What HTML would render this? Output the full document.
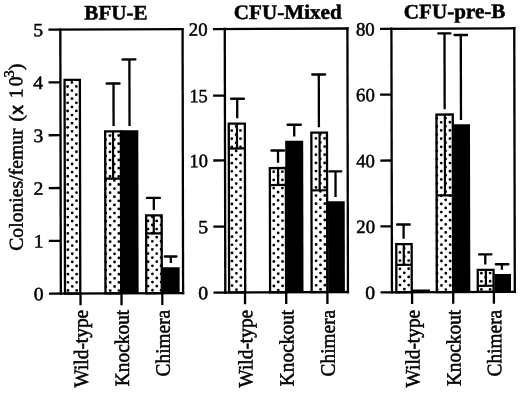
<!DOCTYPE html>
<html lang="en">
<head>
<meta charset="utf-8">
<title>Colonies per femur</title>
<style>
html,body{margin:0;padding:0;background:#fff;}
body{width:520px;height:393px;overflow:hidden;font-family:"Liberation Serif","Times New Roman",serif;}
svg{display:block;}
</style>
</head>
<body>
<svg width="520" height="393" viewBox="0 0 520 393" font-family="'Liberation Serif', 'Times New Roman', serif" fill="#000">
<rect x="0" y="0" width="520" height="393" fill="#fff"/>
<g transform="matrix(0.999993 -0.003840 0.002007 1.000000 -0.3915 0.9984)">
<g id="p1">
<rect x="64.79" y="79.20" width="15.30" height="213.60" fill="#fff"/>
<circle cx="67.81" cy="85.76" r="1.4"/>
<circle cx="67.81" cy="93.92" r="1.4"/>
<circle cx="67.81" cy="102.08" r="1.4"/>
<circle cx="67.81" cy="110.24" r="1.4"/>
<circle cx="67.81" cy="118.40" r="1.4"/>
<circle cx="67.81" cy="126.56" r="1.4"/>
<circle cx="67.81" cy="134.72" r="1.4"/>
<circle cx="67.81" cy="142.88" r="1.4"/>
<circle cx="67.81" cy="151.04" r="1.4"/>
<circle cx="67.81" cy="159.20" r="1.4"/>
<circle cx="67.81" cy="167.36" r="1.4"/>
<circle cx="67.81" cy="175.52" r="1.4"/>
<circle cx="67.81" cy="183.68" r="1.4"/>
<circle cx="67.81" cy="191.84" r="1.4"/>
<circle cx="67.81" cy="200.00" r="1.4"/>
<circle cx="67.81" cy="208.16" r="1.4"/>
<circle cx="67.81" cy="216.32" r="1.4"/>
<circle cx="67.81" cy="224.48" r="1.4"/>
<circle cx="67.81" cy="232.64" r="1.4"/>
<circle cx="67.81" cy="240.80" r="1.4"/>
<circle cx="67.81" cy="248.96" r="1.4"/>
<circle cx="67.81" cy="257.12" r="1.4"/>
<circle cx="67.81" cy="265.28" r="1.4"/>
<circle cx="67.81" cy="273.44" r="1.4"/>
<circle cx="67.81" cy="281.60" r="1.4"/>
<circle cx="67.81" cy="289.76" r="1.4"/>
<circle cx="72.16" cy="81.68" r="1.4"/>
<circle cx="72.16" cy="89.84" r="1.4"/>
<circle cx="72.16" cy="98.00" r="1.4"/>
<circle cx="72.16" cy="106.16" r="1.4"/>
<circle cx="72.16" cy="114.32" r="1.4"/>
<circle cx="72.16" cy="122.48" r="1.4"/>
<circle cx="72.16" cy="130.64" r="1.4"/>
<circle cx="72.16" cy="138.80" r="1.4"/>
<circle cx="72.16" cy="146.96" r="1.4"/>
<circle cx="72.16" cy="155.12" r="1.4"/>
<circle cx="72.16" cy="163.28" r="1.4"/>
<circle cx="72.16" cy="171.44" r="1.4"/>
<circle cx="72.16" cy="179.60" r="1.4"/>
<circle cx="72.16" cy="187.76" r="1.4"/>
<circle cx="72.16" cy="195.92" r="1.4"/>
<circle cx="72.16" cy="204.08" r="1.4"/>
<circle cx="72.16" cy="212.24" r="1.4"/>
<circle cx="72.16" cy="220.40" r="1.4"/>
<circle cx="72.16" cy="228.56" r="1.4"/>
<circle cx="72.16" cy="236.72" r="1.4"/>
<circle cx="72.16" cy="244.88" r="1.4"/>
<circle cx="72.16" cy="253.04" r="1.4"/>
<circle cx="72.16" cy="261.20" r="1.4"/>
<circle cx="72.16" cy="269.36" r="1.4"/>
<circle cx="72.16" cy="277.52" r="1.4"/>
<circle cx="72.16" cy="285.68" r="1.4"/>
<circle cx="76.51" cy="85.76" r="1.4"/>
<circle cx="76.51" cy="93.92" r="1.4"/>
<circle cx="76.51" cy="102.08" r="1.4"/>
<circle cx="76.51" cy="110.24" r="1.4"/>
<circle cx="76.51" cy="118.40" r="1.4"/>
<circle cx="76.51" cy="126.56" r="1.4"/>
<circle cx="76.51" cy="134.72" r="1.4"/>
<circle cx="76.51" cy="142.88" r="1.4"/>
<circle cx="76.51" cy="151.04" r="1.4"/>
<circle cx="76.51" cy="159.20" r="1.4"/>
<circle cx="76.51" cy="167.36" r="1.4"/>
<circle cx="76.51" cy="175.52" r="1.4"/>
<circle cx="76.51" cy="183.68" r="1.4"/>
<circle cx="76.51" cy="191.84" r="1.4"/>
<circle cx="76.51" cy="200.00" r="1.4"/>
<circle cx="76.51" cy="208.16" r="1.4"/>
<circle cx="76.51" cy="216.32" r="1.4"/>
<circle cx="76.51" cy="224.48" r="1.4"/>
<circle cx="76.51" cy="232.64" r="1.4"/>
<circle cx="76.51" cy="240.80" r="1.4"/>
<circle cx="76.51" cy="248.96" r="1.4"/>
<circle cx="76.51" cy="257.12" r="1.4"/>
<circle cx="76.51" cy="265.28" r="1.4"/>
<circle cx="76.51" cy="273.44" r="1.4"/>
<circle cx="76.51" cy="281.60" r="1.4"/>
<circle cx="76.51" cy="289.76" r="1.4"/>
<rect x="64.79" y="79.20" width="15.30" height="213.60" fill="none" stroke="#000" stroke-width="2.3"/>
<rect x="105.28" y="130.75" width="15.70" height="162.05" fill="#fff"/>
<circle cx="105.71" cy="139.06" r="1.4"/>
<circle cx="105.71" cy="147.22" r="1.4"/>
<circle cx="105.71" cy="155.38" r="1.4"/>
<circle cx="105.71" cy="163.54" r="1.4"/>
<circle cx="105.71" cy="171.70" r="1.4"/>
<circle cx="105.71" cy="179.86" r="1.4"/>
<circle cx="105.71" cy="188.02" r="1.4"/>
<circle cx="105.71" cy="196.18" r="1.4"/>
<circle cx="105.71" cy="204.34" r="1.4"/>
<circle cx="105.71" cy="212.50" r="1.4"/>
<circle cx="105.71" cy="220.66" r="1.4"/>
<circle cx="105.71" cy="228.82" r="1.4"/>
<circle cx="105.71" cy="236.98" r="1.4"/>
<circle cx="105.71" cy="245.14" r="1.4"/>
<circle cx="105.71" cy="253.30" r="1.4"/>
<circle cx="105.71" cy="261.46" r="1.4"/>
<circle cx="105.71" cy="269.62" r="1.4"/>
<circle cx="105.71" cy="277.78" r="1.4"/>
<circle cx="105.71" cy="285.94" r="1.4"/>
<circle cx="110.06" cy="134.98" r="1.4"/>
<circle cx="110.06" cy="143.14" r="1.4"/>
<circle cx="110.06" cy="151.30" r="1.4"/>
<circle cx="110.06" cy="159.46" r="1.4"/>
<circle cx="110.06" cy="167.62" r="1.4"/>
<circle cx="110.06" cy="175.78" r="1.4"/>
<circle cx="110.06" cy="183.94" r="1.4"/>
<circle cx="110.06" cy="192.10" r="1.4"/>
<circle cx="110.06" cy="200.26" r="1.4"/>
<circle cx="110.06" cy="208.42" r="1.4"/>
<circle cx="110.06" cy="216.58" r="1.4"/>
<circle cx="110.06" cy="224.74" r="1.4"/>
<circle cx="110.06" cy="232.90" r="1.4"/>
<circle cx="110.06" cy="241.06" r="1.4"/>
<circle cx="110.06" cy="249.22" r="1.4"/>
<circle cx="110.06" cy="257.38" r="1.4"/>
<circle cx="110.06" cy="265.54" r="1.4"/>
<circle cx="110.06" cy="273.70" r="1.4"/>
<circle cx="110.06" cy="281.86" r="1.4"/>
<circle cx="110.06" cy="290.02" r="1.4"/>
<circle cx="114.41" cy="139.06" r="1.4"/>
<circle cx="114.41" cy="147.22" r="1.4"/>
<circle cx="114.41" cy="155.38" r="1.4"/>
<circle cx="114.41" cy="163.54" r="1.4"/>
<circle cx="114.41" cy="171.70" r="1.4"/>
<circle cx="114.41" cy="179.86" r="1.4"/>
<circle cx="114.41" cy="188.02" r="1.4"/>
<circle cx="114.41" cy="196.18" r="1.4"/>
<circle cx="114.41" cy="204.34" r="1.4"/>
<circle cx="114.41" cy="212.50" r="1.4"/>
<circle cx="114.41" cy="220.66" r="1.4"/>
<circle cx="114.41" cy="228.82" r="1.4"/>
<circle cx="114.41" cy="236.98" r="1.4"/>
<circle cx="114.41" cy="245.14" r="1.4"/>
<circle cx="114.41" cy="253.30" r="1.4"/>
<circle cx="114.41" cy="261.46" r="1.4"/>
<circle cx="114.41" cy="269.62" r="1.4"/>
<circle cx="114.41" cy="277.78" r="1.4"/>
<circle cx="114.41" cy="285.94" r="1.4"/>
<circle cx="118.76" cy="134.98" r="1.4"/>
<circle cx="118.76" cy="143.14" r="1.4"/>
<circle cx="118.76" cy="151.30" r="1.4"/>
<circle cx="118.76" cy="159.46" r="1.4"/>
<circle cx="118.76" cy="167.62" r="1.4"/>
<circle cx="118.76" cy="175.78" r="1.4"/>
<circle cx="118.76" cy="183.94" r="1.4"/>
<circle cx="118.76" cy="192.10" r="1.4"/>
<circle cx="118.76" cy="200.26" r="1.4"/>
<circle cx="118.76" cy="208.42" r="1.4"/>
<circle cx="118.76" cy="216.58" r="1.4"/>
<circle cx="118.76" cy="224.74" r="1.4"/>
<circle cx="118.76" cy="232.90" r="1.4"/>
<circle cx="118.76" cy="241.06" r="1.4"/>
<circle cx="118.76" cy="249.22" r="1.4"/>
<circle cx="118.76" cy="257.38" r="1.4"/>
<circle cx="118.76" cy="265.54" r="1.4"/>
<circle cx="118.76" cy="273.70" r="1.4"/>
<circle cx="118.76" cy="281.86" r="1.4"/>
<circle cx="118.76" cy="290.02" r="1.4"/>
<rect x="105.28" y="130.75" width="15.70" height="162.05" fill="none" stroke="#000" stroke-width="2.3"/>
<line x1="105.28" y1="178.04" x2="120.98" y2="178.04" stroke="#000" stroke-width="2.2"/>
<line x1="113.13" y1="130.75" x2="113.13" y2="178.04" stroke="#000" stroke-width="2.2"/>
<rect x="120.73" y="129.67" width="17.70" height="163.13" fill="#000"/>
<rect x="146.11" y="215.01" width="15.50" height="77.79" fill="#fff"/>
<circle cx="147.92" cy="220.49" r="1.4"/>
<circle cx="147.92" cy="228.65" r="1.4"/>
<circle cx="147.92" cy="236.81" r="1.4"/>
<circle cx="147.92" cy="244.97" r="1.4"/>
<circle cx="147.92" cy="253.13" r="1.4"/>
<circle cx="147.92" cy="261.29" r="1.4"/>
<circle cx="147.92" cy="269.45" r="1.4"/>
<circle cx="147.92" cy="277.61" r="1.4"/>
<circle cx="147.92" cy="285.77" r="1.4"/>
<circle cx="152.27" cy="216.41" r="1.4"/>
<circle cx="152.27" cy="224.57" r="1.4"/>
<circle cx="152.27" cy="232.73" r="1.4"/>
<circle cx="152.27" cy="240.89" r="1.4"/>
<circle cx="152.27" cy="249.05" r="1.4"/>
<circle cx="152.27" cy="257.21" r="1.4"/>
<circle cx="152.27" cy="265.37" r="1.4"/>
<circle cx="152.27" cy="273.53" r="1.4"/>
<circle cx="152.27" cy="281.69" r="1.4"/>
<circle cx="152.27" cy="289.85" r="1.4"/>
<circle cx="156.62" cy="220.49" r="1.4"/>
<circle cx="156.62" cy="228.65" r="1.4"/>
<circle cx="156.62" cy="236.81" r="1.4"/>
<circle cx="156.62" cy="244.97" r="1.4"/>
<circle cx="156.62" cy="253.13" r="1.4"/>
<circle cx="156.62" cy="261.29" r="1.4"/>
<circle cx="156.62" cy="269.45" r="1.4"/>
<circle cx="156.62" cy="277.61" r="1.4"/>
<circle cx="156.62" cy="285.77" r="1.4"/>
<circle cx="160.97" cy="216.41" r="1.4"/>
<circle cx="160.97" cy="224.57" r="1.4"/>
<circle cx="160.97" cy="232.73" r="1.4"/>
<circle cx="160.97" cy="240.89" r="1.4"/>
<circle cx="160.97" cy="249.05" r="1.4"/>
<circle cx="160.97" cy="257.21" r="1.4"/>
<circle cx="160.97" cy="265.37" r="1.4"/>
<circle cx="160.97" cy="273.53" r="1.4"/>
<circle cx="160.97" cy="281.69" r="1.4"/>
<circle cx="160.97" cy="289.85" r="1.4"/>
<rect x="146.11" y="215.01" width="15.50" height="77.79" fill="none" stroke="#000" stroke-width="2.3"/>
<line x1="146.11" y1="232.99" x2="161.61" y2="232.99" stroke="#000" stroke-width="2.2"/>
<line x1="153.72" y1="215.01" x2="153.72" y2="232.99" stroke="#000" stroke-width="2.2"/>
<rect x="161.86" y="266.82" width="17.60" height="25.98" fill="#000"/>
<line x1="106.93" y1="82.94" x2="119.73" y2="82.94" stroke="#000" stroke-width="2.4" stroke-linecap="round"/>
<line x1="113.73" y1="82.94" x2="113.73" y2="125.44" stroke="#000" stroke-width="2.3"/>
<line x1="122.87" y1="58.90" x2="135.67" y2="58.90" stroke="#000" stroke-width="2.4" stroke-linecap="round"/>
<line x1="129.67" y1="58.90" x2="129.67" y2="125.50" stroke="#000" stroke-width="2.3"/>
<line x1="147.00" y1="197.49" x2="159.90" y2="197.49" stroke="#000" stroke-width="2.4" stroke-linecap="round"/>
<line x1="153.80" y1="197.49" x2="153.80" y2="209.69" stroke="#000" stroke-width="2.3"/>
<line x1="164.78" y1="256.16" x2="176.28" y2="256.16" stroke="#000" stroke-width="2.4" stroke-linecap="round"/>
<line x1="170.68" y1="256.16" x2="170.68" y2="262.66" stroke="#000" stroke-width="2.3"/>
</g>
<g id="p2">
<rect x="228.90" y="123.53" width="16.10" height="168.82" fill="#fff"/>
<circle cx="231.92" cy="130.45" r="1.4"/>
<circle cx="231.92" cy="138.61" r="1.4"/>
<circle cx="231.92" cy="146.77" r="1.4"/>
<circle cx="231.92" cy="154.93" r="1.4"/>
<circle cx="231.92" cy="163.09" r="1.4"/>
<circle cx="231.92" cy="171.25" r="1.4"/>
<circle cx="231.92" cy="179.41" r="1.4"/>
<circle cx="231.92" cy="187.57" r="1.4"/>
<circle cx="231.92" cy="195.73" r="1.4"/>
<circle cx="231.92" cy="203.89" r="1.4"/>
<circle cx="231.92" cy="212.05" r="1.4"/>
<circle cx="231.92" cy="220.21" r="1.4"/>
<circle cx="231.92" cy="228.37" r="1.4"/>
<circle cx="231.92" cy="236.53" r="1.4"/>
<circle cx="231.92" cy="244.69" r="1.4"/>
<circle cx="231.92" cy="252.85" r="1.4"/>
<circle cx="231.92" cy="261.01" r="1.4"/>
<circle cx="231.92" cy="269.17" r="1.4"/>
<circle cx="231.92" cy="277.33" r="1.4"/>
<circle cx="231.92" cy="285.49" r="1.4"/>
<circle cx="236.27" cy="126.37" r="1.4"/>
<circle cx="236.27" cy="134.53" r="1.4"/>
<circle cx="236.27" cy="142.69" r="1.4"/>
<circle cx="236.27" cy="150.85" r="1.4"/>
<circle cx="236.27" cy="159.01" r="1.4"/>
<circle cx="236.27" cy="167.17" r="1.4"/>
<circle cx="236.27" cy="175.33" r="1.4"/>
<circle cx="236.27" cy="183.49" r="1.4"/>
<circle cx="236.27" cy="191.65" r="1.4"/>
<circle cx="236.27" cy="199.81" r="1.4"/>
<circle cx="236.27" cy="207.97" r="1.4"/>
<circle cx="236.27" cy="216.13" r="1.4"/>
<circle cx="236.27" cy="224.29" r="1.4"/>
<circle cx="236.27" cy="232.45" r="1.4"/>
<circle cx="236.27" cy="240.61" r="1.4"/>
<circle cx="236.27" cy="248.77" r="1.4"/>
<circle cx="236.27" cy="256.93" r="1.4"/>
<circle cx="236.27" cy="265.09" r="1.4"/>
<circle cx="236.27" cy="273.25" r="1.4"/>
<circle cx="236.27" cy="281.41" r="1.4"/>
<circle cx="236.27" cy="289.57" r="1.4"/>
<circle cx="240.62" cy="130.45" r="1.4"/>
<circle cx="240.62" cy="138.61" r="1.4"/>
<circle cx="240.62" cy="146.77" r="1.4"/>
<circle cx="240.62" cy="154.93" r="1.4"/>
<circle cx="240.62" cy="163.09" r="1.4"/>
<circle cx="240.62" cy="171.25" r="1.4"/>
<circle cx="240.62" cy="179.41" r="1.4"/>
<circle cx="240.62" cy="187.57" r="1.4"/>
<circle cx="240.62" cy="195.73" r="1.4"/>
<circle cx="240.62" cy="203.89" r="1.4"/>
<circle cx="240.62" cy="212.05" r="1.4"/>
<circle cx="240.62" cy="220.21" r="1.4"/>
<circle cx="240.62" cy="228.37" r="1.4"/>
<circle cx="240.62" cy="236.53" r="1.4"/>
<circle cx="240.62" cy="244.69" r="1.4"/>
<circle cx="240.62" cy="252.85" r="1.4"/>
<circle cx="240.62" cy="261.01" r="1.4"/>
<circle cx="240.62" cy="269.17" r="1.4"/>
<circle cx="240.62" cy="277.33" r="1.4"/>
<circle cx="240.62" cy="285.49" r="1.4"/>
<rect x="228.90" y="123.53" width="16.10" height="168.82" fill="none" stroke="#000" stroke-width="2.3"/>
<line x1="228.90" y1="148.41" x2="245.00" y2="148.41" stroke="#000" stroke-width="2.2"/>
<line x1="237.10" y1="123.53" x2="237.10" y2="148.41" stroke="#000" stroke-width="2.2"/>
<rect x="269.91" y="168.08" width="16.00" height="124.27" fill="#fff"/>
<circle cx="273.72" cy="171.81" r="1.4"/>
<circle cx="273.72" cy="179.97" r="1.4"/>
<circle cx="273.72" cy="188.13" r="1.4"/>
<circle cx="273.72" cy="196.29" r="1.4"/>
<circle cx="273.72" cy="204.45" r="1.4"/>
<circle cx="273.72" cy="212.61" r="1.4"/>
<circle cx="273.72" cy="220.77" r="1.4"/>
<circle cx="273.72" cy="228.93" r="1.4"/>
<circle cx="273.72" cy="237.09" r="1.4"/>
<circle cx="273.72" cy="245.25" r="1.4"/>
<circle cx="273.72" cy="253.41" r="1.4"/>
<circle cx="273.72" cy="261.57" r="1.4"/>
<circle cx="273.72" cy="269.73" r="1.4"/>
<circle cx="273.72" cy="277.89" r="1.4"/>
<circle cx="273.72" cy="286.05" r="1.4"/>
<circle cx="278.07" cy="175.89" r="1.4"/>
<circle cx="278.07" cy="184.05" r="1.4"/>
<circle cx="278.07" cy="192.21" r="1.4"/>
<circle cx="278.07" cy="200.37" r="1.4"/>
<circle cx="278.07" cy="208.53" r="1.4"/>
<circle cx="278.07" cy="216.69" r="1.4"/>
<circle cx="278.07" cy="224.85" r="1.4"/>
<circle cx="278.07" cy="233.01" r="1.4"/>
<circle cx="278.07" cy="241.17" r="1.4"/>
<circle cx="278.07" cy="249.33" r="1.4"/>
<circle cx="278.07" cy="257.49" r="1.4"/>
<circle cx="278.07" cy="265.65" r="1.4"/>
<circle cx="278.07" cy="273.81" r="1.4"/>
<circle cx="278.07" cy="281.97" r="1.4"/>
<circle cx="278.07" cy="290.13" r="1.4"/>
<circle cx="282.42" cy="171.81" r="1.4"/>
<circle cx="282.42" cy="179.97" r="1.4"/>
<circle cx="282.42" cy="188.13" r="1.4"/>
<circle cx="282.42" cy="196.29" r="1.4"/>
<circle cx="282.42" cy="204.45" r="1.4"/>
<circle cx="282.42" cy="212.61" r="1.4"/>
<circle cx="282.42" cy="220.77" r="1.4"/>
<circle cx="282.42" cy="228.93" r="1.4"/>
<circle cx="282.42" cy="237.09" r="1.4"/>
<circle cx="282.42" cy="245.25" r="1.4"/>
<circle cx="282.42" cy="253.41" r="1.4"/>
<circle cx="282.42" cy="261.57" r="1.4"/>
<circle cx="282.42" cy="269.73" r="1.4"/>
<circle cx="282.42" cy="277.89" r="1.4"/>
<circle cx="282.42" cy="286.05" r="1.4"/>
<rect x="269.91" y="168.08" width="16.00" height="124.27" fill="none" stroke="#000" stroke-width="2.3"/>
<line x1="269.91" y1="185.07" x2="285.91" y2="185.07" stroke="#000" stroke-width="2.2"/>
<line x1="278.12" y1="168.08" x2="278.12" y2="185.07" stroke="#000" stroke-width="2.2"/>
<rect x="285.31" y="140.90" width="18.00" height="151.45" fill="#000"/>
<rect x="311.48" y="132.84" width="15.60" height="159.51" fill="#fff"/>
<circle cx="316.02" cy="138.64" r="1.4"/>
<circle cx="316.02" cy="146.80" r="1.4"/>
<circle cx="316.02" cy="154.96" r="1.4"/>
<circle cx="316.02" cy="163.12" r="1.4"/>
<circle cx="316.02" cy="171.28" r="1.4"/>
<circle cx="316.02" cy="179.44" r="1.4"/>
<circle cx="316.02" cy="187.60" r="1.4"/>
<circle cx="316.02" cy="195.76" r="1.4"/>
<circle cx="316.02" cy="203.92" r="1.4"/>
<circle cx="316.02" cy="212.08" r="1.4"/>
<circle cx="316.02" cy="220.24" r="1.4"/>
<circle cx="316.02" cy="228.40" r="1.4"/>
<circle cx="316.02" cy="236.56" r="1.4"/>
<circle cx="316.02" cy="244.72" r="1.4"/>
<circle cx="316.02" cy="252.88" r="1.4"/>
<circle cx="316.02" cy="261.04" r="1.4"/>
<circle cx="316.02" cy="269.20" r="1.4"/>
<circle cx="316.02" cy="277.36" r="1.4"/>
<circle cx="316.02" cy="285.52" r="1.4"/>
<circle cx="320.37" cy="134.56" r="1.4"/>
<circle cx="320.37" cy="142.72" r="1.4"/>
<circle cx="320.37" cy="150.88" r="1.4"/>
<circle cx="320.37" cy="159.04" r="1.4"/>
<circle cx="320.37" cy="167.20" r="1.4"/>
<circle cx="320.37" cy="175.36" r="1.4"/>
<circle cx="320.37" cy="183.52" r="1.4"/>
<circle cx="320.37" cy="191.68" r="1.4"/>
<circle cx="320.37" cy="199.84" r="1.4"/>
<circle cx="320.37" cy="208.00" r="1.4"/>
<circle cx="320.37" cy="216.16" r="1.4"/>
<circle cx="320.37" cy="224.32" r="1.4"/>
<circle cx="320.37" cy="232.48" r="1.4"/>
<circle cx="320.37" cy="240.64" r="1.4"/>
<circle cx="320.37" cy="248.80" r="1.4"/>
<circle cx="320.37" cy="256.96" r="1.4"/>
<circle cx="320.37" cy="265.12" r="1.4"/>
<circle cx="320.37" cy="273.28" r="1.4"/>
<circle cx="320.37" cy="281.44" r="1.4"/>
<circle cx="320.37" cy="289.60" r="1.4"/>
<circle cx="324.72" cy="138.64" r="1.4"/>
<circle cx="324.72" cy="146.80" r="1.4"/>
<circle cx="324.72" cy="154.96" r="1.4"/>
<circle cx="324.72" cy="163.12" r="1.4"/>
<circle cx="324.72" cy="171.28" r="1.4"/>
<circle cx="324.72" cy="179.44" r="1.4"/>
<circle cx="324.72" cy="187.60" r="1.4"/>
<circle cx="324.72" cy="195.76" r="1.4"/>
<circle cx="324.72" cy="203.92" r="1.4"/>
<circle cx="324.72" cy="212.08" r="1.4"/>
<circle cx="324.72" cy="220.24" r="1.4"/>
<circle cx="324.72" cy="228.40" r="1.4"/>
<circle cx="324.72" cy="236.56" r="1.4"/>
<circle cx="324.72" cy="244.72" r="1.4"/>
<circle cx="324.72" cy="252.88" r="1.4"/>
<circle cx="324.72" cy="261.04" r="1.4"/>
<circle cx="324.72" cy="269.20" r="1.4"/>
<circle cx="324.72" cy="277.36" r="1.4"/>
<circle cx="324.72" cy="285.52" r="1.4"/>
<rect x="311.48" y="132.84" width="15.60" height="159.51" fill="none" stroke="#000" stroke-width="2.3"/>
<line x1="311.48" y1="190.53" x2="327.08" y2="190.53" stroke="#000" stroke-width="2.2"/>
<line x1="319.71" y1="132.84" x2="319.71" y2="190.53" stroke="#000" stroke-width="2.2"/>
<rect x="327.99" y="201.46" width="16.70" height="90.89" fill="#000"/>
<line x1="231.30" y1="98.71" x2="244.10" y2="98.71" stroke="#000" stroke-width="2.4" stroke-linecap="round"/>
<line x1="237.40" y1="98.71" x2="237.40" y2="118.21" stroke="#000" stroke-width="2.3"/>
<line x1="271.59" y1="150.57" x2="283.99" y2="150.57" stroke="#000" stroke-width="2.4" stroke-linecap="round"/>
<line x1="278.09" y1="150.57" x2="278.09" y2="162.77" stroke="#000" stroke-width="2.3"/>
<line x1="287.74" y1="124.93" x2="300.94" y2="124.93" stroke="#000" stroke-width="2.4" stroke-linecap="round"/>
<line x1="294.34" y1="124.93" x2="294.34" y2="136.73" stroke="#000" stroke-width="2.3"/>
<line x1="312.54" y1="74.73" x2="325.34" y2="74.73" stroke="#000" stroke-width="2.4" stroke-linecap="round"/>
<line x1="319.04" y1="74.73" x2="319.04" y2="127.53" stroke="#000" stroke-width="2.3"/>
<line x1="329.45" y1="171.69" x2="341.35" y2="171.69" stroke="#000" stroke-width="2.4" stroke-linecap="round"/>
<line x1="335.55" y1="171.69" x2="335.55" y2="197.29" stroke="#000" stroke-width="2.3"/>
</g>
<g id="p3">
<rect x="396.16" y="244.67" width="15.40" height="48.13" fill="#fff"/>
<circle cx="399.82" cy="253.00" r="1.4"/>
<circle cx="399.82" cy="261.16" r="1.4"/>
<circle cx="399.82" cy="269.32" r="1.4"/>
<circle cx="399.82" cy="277.48" r="1.4"/>
<circle cx="399.82" cy="285.64" r="1.4"/>
<circle cx="404.17" cy="248.92" r="1.4"/>
<circle cx="404.17" cy="257.08" r="1.4"/>
<circle cx="404.17" cy="265.24" r="1.4"/>
<circle cx="404.17" cy="273.40" r="1.4"/>
<circle cx="404.17" cy="281.56" r="1.4"/>
<circle cx="404.17" cy="289.72" r="1.4"/>
<circle cx="408.52" cy="253.00" r="1.4"/>
<circle cx="408.52" cy="261.16" r="1.4"/>
<circle cx="408.52" cy="269.32" r="1.4"/>
<circle cx="408.52" cy="277.48" r="1.4"/>
<circle cx="408.52" cy="285.64" r="1.4"/>
<rect x="396.16" y="244.67" width="15.40" height="48.13" fill="none" stroke="#000" stroke-width="2.3"/>
<line x1="396.16" y1="265.35" x2="411.56" y2="265.35" stroke="#000" stroke-width="2.2"/>
<line x1="403.66" y1="244.67" x2="403.66" y2="265.35" stroke="#000" stroke-width="2.2"/>
<rect x="412.61" y="290.19" width="17.20" height="2.61" fill="#000"/>
<rect x="436.62" y="115.22" width="16.30" height="177.58" fill="#fff"/>
<circle cx="436.97" cy="118.92" r="1.4"/>
<circle cx="436.97" cy="127.08" r="1.4"/>
<circle cx="436.97" cy="135.24" r="1.4"/>
<circle cx="436.97" cy="143.40" r="1.4"/>
<circle cx="436.97" cy="151.56" r="1.4"/>
<circle cx="436.97" cy="159.72" r="1.4"/>
<circle cx="436.97" cy="167.88" r="1.4"/>
<circle cx="436.97" cy="176.04" r="1.4"/>
<circle cx="436.97" cy="184.20" r="1.4"/>
<circle cx="436.97" cy="192.36" r="1.4"/>
<circle cx="436.97" cy="200.52" r="1.4"/>
<circle cx="436.97" cy="208.68" r="1.4"/>
<circle cx="436.97" cy="216.84" r="1.4"/>
<circle cx="436.97" cy="225.00" r="1.4"/>
<circle cx="436.97" cy="233.16" r="1.4"/>
<circle cx="436.97" cy="241.32" r="1.4"/>
<circle cx="436.97" cy="249.48" r="1.4"/>
<circle cx="436.97" cy="257.64" r="1.4"/>
<circle cx="436.97" cy="265.80" r="1.4"/>
<circle cx="436.97" cy="273.96" r="1.4"/>
<circle cx="436.97" cy="282.12" r="1.4"/>
<circle cx="436.97" cy="290.28" r="1.4"/>
<circle cx="441.32" cy="123.00" r="1.4"/>
<circle cx="441.32" cy="131.16" r="1.4"/>
<circle cx="441.32" cy="139.32" r="1.4"/>
<circle cx="441.32" cy="147.48" r="1.4"/>
<circle cx="441.32" cy="155.64" r="1.4"/>
<circle cx="441.32" cy="163.80" r="1.4"/>
<circle cx="441.32" cy="171.96" r="1.4"/>
<circle cx="441.32" cy="180.12" r="1.4"/>
<circle cx="441.32" cy="188.28" r="1.4"/>
<circle cx="441.32" cy="196.44" r="1.4"/>
<circle cx="441.32" cy="204.60" r="1.4"/>
<circle cx="441.32" cy="212.76" r="1.4"/>
<circle cx="441.32" cy="220.92" r="1.4"/>
<circle cx="441.32" cy="229.08" r="1.4"/>
<circle cx="441.32" cy="237.24" r="1.4"/>
<circle cx="441.32" cy="245.40" r="1.4"/>
<circle cx="441.32" cy="253.56" r="1.4"/>
<circle cx="441.32" cy="261.72" r="1.4"/>
<circle cx="441.32" cy="269.88" r="1.4"/>
<circle cx="441.32" cy="278.04" r="1.4"/>
<circle cx="441.32" cy="286.20" r="1.4"/>
<circle cx="445.67" cy="118.92" r="1.4"/>
<circle cx="445.67" cy="127.08" r="1.4"/>
<circle cx="445.67" cy="135.24" r="1.4"/>
<circle cx="445.67" cy="143.40" r="1.4"/>
<circle cx="445.67" cy="151.56" r="1.4"/>
<circle cx="445.67" cy="159.72" r="1.4"/>
<circle cx="445.67" cy="167.88" r="1.4"/>
<circle cx="445.67" cy="176.04" r="1.4"/>
<circle cx="445.67" cy="184.20" r="1.4"/>
<circle cx="445.67" cy="192.36" r="1.4"/>
<circle cx="445.67" cy="200.52" r="1.4"/>
<circle cx="445.67" cy="208.68" r="1.4"/>
<circle cx="445.67" cy="216.84" r="1.4"/>
<circle cx="445.67" cy="225.00" r="1.4"/>
<circle cx="445.67" cy="233.16" r="1.4"/>
<circle cx="445.67" cy="241.32" r="1.4"/>
<circle cx="445.67" cy="249.48" r="1.4"/>
<circle cx="445.67" cy="257.64" r="1.4"/>
<circle cx="445.67" cy="265.80" r="1.4"/>
<circle cx="445.67" cy="273.96" r="1.4"/>
<circle cx="445.67" cy="282.12" r="1.4"/>
<circle cx="445.67" cy="290.28" r="1.4"/>
<circle cx="450.02" cy="123.00" r="1.4"/>
<circle cx="450.02" cy="131.16" r="1.4"/>
<circle cx="450.02" cy="139.32" r="1.4"/>
<circle cx="450.02" cy="147.48" r="1.4"/>
<circle cx="450.02" cy="155.64" r="1.4"/>
<circle cx="450.02" cy="163.80" r="1.4"/>
<circle cx="450.02" cy="171.96" r="1.4"/>
<circle cx="450.02" cy="180.12" r="1.4"/>
<circle cx="450.02" cy="188.28" r="1.4"/>
<circle cx="450.02" cy="196.44" r="1.4"/>
<circle cx="450.02" cy="204.60" r="1.4"/>
<circle cx="450.02" cy="212.76" r="1.4"/>
<circle cx="450.02" cy="220.92" r="1.4"/>
<circle cx="450.02" cy="229.08" r="1.4"/>
<circle cx="450.02" cy="237.24" r="1.4"/>
<circle cx="450.02" cy="245.40" r="1.4"/>
<circle cx="450.02" cy="253.56" r="1.4"/>
<circle cx="450.02" cy="261.72" r="1.4"/>
<circle cx="450.02" cy="269.88" r="1.4"/>
<circle cx="450.02" cy="278.04" r="1.4"/>
<circle cx="450.02" cy="286.20" r="1.4"/>
<rect x="436.62" y="115.22" width="16.30" height="177.58" fill="none" stroke="#000" stroke-width="2.3"/>
<line x1="436.62" y1="196.11" x2="452.92" y2="196.11" stroke="#000" stroke-width="2.2"/>
<line x1="445.00" y1="115.22" x2="445.00" y2="196.11" stroke="#000" stroke-width="2.2"/>
<rect x="453.64" y="125.04" width="16.50" height="167.76" fill="#000"/>
<rect x="477.60" y="270.78" width="15.80" height="22.02" fill="#fff"/>
<circle cx="481.23" cy="273.99" r="1.4"/>
<circle cx="481.23" cy="282.15" r="1.4"/>
<circle cx="481.23" cy="290.31" r="1.4"/>
<circle cx="485.58" cy="278.07" r="1.4"/>
<circle cx="485.58" cy="286.23" r="1.4"/>
<circle cx="489.93" cy="273.99" r="1.4"/>
<circle cx="489.93" cy="282.15" r="1.4"/>
<circle cx="489.93" cy="290.31" r="1.4"/>
<rect x="477.60" y="270.78" width="15.80" height="22.02" fill="none" stroke="#000" stroke-width="2.3"/>
<line x1="477.60" y1="286.67" x2="493.40" y2="286.67" stroke="#000" stroke-width="2.2"/>
<line x1="485.72" y1="270.78" x2="485.72" y2="286.67" stroke="#000" stroke-width="2.2"/>
<rect x="494.34" y="274.90" width="16.50" height="17.90" fill="#000"/>
<line x1="397.14" y1="225.05" x2="409.64" y2="225.05" stroke="#000" stroke-width="2.4" stroke-linecap="round"/>
<line x1="403.54" y1="225.05" x2="403.54" y2="239.35" stroke="#000" stroke-width="2.3"/>
<line x1="438.73" y1="34.11" x2="450.73" y2="34.11" stroke="#000" stroke-width="2.4" stroke-linecap="round"/>
<line x1="444.83" y1="34.11" x2="444.83" y2="109.91" stroke="#000" stroke-width="2.3"/>
<line x1="454.92" y1="35.77" x2="467.32" y2="35.77" stroke="#000" stroke-width="2.4" stroke-linecap="round"/>
<line x1="461.12" y1="35.77" x2="461.12" y2="120.87" stroke="#000" stroke-width="2.3"/>
<line x1="479.08" y1="255.26" x2="491.28" y2="255.26" stroke="#000" stroke-width="2.4" stroke-linecap="round"/>
<line x1="485.18" y1="255.26" x2="485.18" y2="265.46" stroke="#000" stroke-width="2.3"/>
<line x1="495.76" y1="265.13" x2="508.16" y2="265.13" stroke="#000" stroke-width="2.4" stroke-linecap="round"/>
<line x1="501.76" y1="265.13" x2="501.76" y2="270.73" stroke="#000" stroke-width="2.3"/>
</g>
<g id="axes">
<line x1="60.65" y1="27.70" x2="60.65" y2="293.95" stroke="#000" stroke-width="2.3"/>
<line x1="182.90" y1="27.70" x2="182.90" y2="293.95" stroke="#000" stroke-width="2.3"/>
<line x1="48.75" y1="28.85" x2="184.05" y2="28.85" stroke="#000" stroke-width="2.3"/>
<line x1="48.75" y1="292.80" x2="184.05" y2="292.80" stroke="#000" stroke-width="2.3"/>
<text stroke="#000" stroke-width="0.5" stroke-linejoin="round" transform="translate(43.44,299.38) scale(1.05,1.0)" text-anchor="end" font-size="18.8">0</text>
<line x1="48.75" y1="240.01" x2="60.65" y2="240.01" stroke="#000" stroke-width="2.3"/>
<text stroke="#000" stroke-width="0.5" stroke-linejoin="round" transform="translate(43.44,246.59) scale(1.05,1.0)" text-anchor="end" font-size="18.8">1</text>
<line x1="48.75" y1="187.22" x2="60.65" y2="187.22" stroke="#000" stroke-width="2.3"/>
<text stroke="#000" stroke-width="0.5" stroke-linejoin="round" transform="translate(43.44,193.80) scale(1.05,1.0)" text-anchor="end" font-size="18.8">2</text>
<line x1="48.75" y1="134.43" x2="60.65" y2="134.43" stroke="#000" stroke-width="2.3"/>
<text stroke="#000" stroke-width="0.5" stroke-linejoin="round" transform="translate(43.44,141.01) scale(1.05,1.0)" text-anchor="end" font-size="18.8">3</text>
<line x1="48.75" y1="81.64" x2="60.65" y2="81.64" stroke="#000" stroke-width="2.3"/>
<text stroke="#000" stroke-width="0.5" stroke-linejoin="round" transform="translate(43.44,88.22) scale(1.05,1.0)" text-anchor="end" font-size="18.8">4</text>
<text stroke="#000" stroke-width="0.5" stroke-linejoin="round" transform="translate(43.44,35.43) scale(1.05,1.0)" text-anchor="end" font-size="18.8">5</text>
<text stroke="#000" stroke-width="0.5" stroke-linejoin="round" transform="translate(116.35,18.95) scale(1.03,1.0)" text-anchor="middle" font-size="20.5" font-weight="bold">BFU-E</text>
<line x1="80.31" y1="292.80" x2="80.31" y2="304.60" stroke="#000" stroke-width="2.3"/>
<text stroke="#000" stroke-width="0.5" stroke-linejoin="round" transform="translate(87.57,309.14) rotate(-90) scale(1.03,1.09)" text-anchor="end" font-size="18.8">Wild-type</text>
<line x1="121.31" y1="292.80" x2="121.31" y2="304.60" stroke="#000" stroke-width="2.3"/>
<text stroke="#000" stroke-width="0.5" stroke-linejoin="round" transform="translate(128.57,309.30) rotate(-90) scale(1.03,1.09)" text-anchor="end" font-size="18.8">Knockout</text>
<line x1="162.11" y1="292.80" x2="162.11" y2="304.60" stroke="#000" stroke-width="2.3"/>
<text stroke="#000" stroke-width="0.5" stroke-linejoin="round" transform="translate(169.37,309.45) rotate(-90) scale(1.03,1.09)" text-anchor="end" font-size="18.8">Chimera</text>
<line x1="225.10" y1="27.70" x2="225.10" y2="293.50" stroke="#000" stroke-width="2.3"/>
<line x1="347.75" y1="27.70" x2="347.75" y2="293.50" stroke="#000" stroke-width="2.3"/>
<line x1="213.30" y1="28.85" x2="348.90" y2="28.85" stroke="#000" stroke-width="2.3"/>
<line x1="213.30" y1="292.35" x2="348.90" y2="292.35" stroke="#000" stroke-width="2.3"/>
<text stroke="#000" stroke-width="0.5" stroke-linejoin="round" transform="translate(207.99,298.93) scale(1.05,1.0)" text-anchor="end" font-size="18.8">0</text>
<line x1="213.30" y1="226.48" x2="225.10" y2="226.48" stroke="#000" stroke-width="2.3"/>
<text stroke="#000" stroke-width="0.5" stroke-linejoin="round" transform="translate(207.99,233.05) scale(1.05,1.0)" text-anchor="end" font-size="18.8">5</text>
<line x1="213.30" y1="160.30" x2="225.10" y2="160.30" stroke="#000" stroke-width="2.3"/>
<text stroke="#000" stroke-width="0.5" stroke-linejoin="round" transform="translate(207.99,166.88) scale(0.9765000000000001,1.0)" text-anchor="end" font-size="18.8">10</text>
<line x1="213.30" y1="95.43" x2="225.10" y2="95.43" stroke="#000" stroke-width="2.3"/>
<text stroke="#000" stroke-width="0.5" stroke-linejoin="round" transform="translate(207.99,102.00) scale(0.9765000000000001,1.0)" text-anchor="end" font-size="18.8">15</text>
<text stroke="#000" stroke-width="0.5" stroke-linejoin="round" transform="translate(207.99,35.43) scale(1.0,1.0)" text-anchor="end" font-size="18.8">20</text>
<text stroke="#000" stroke-width="0.5" stroke-linejoin="round" transform="translate(288.15,18.95) scale(1.03,1.0)" text-anchor="middle" font-size="20.5" font-weight="bold">CFU-Mixed</text>
<line x1="244.81" y1="292.35" x2="244.81" y2="304.15" stroke="#000" stroke-width="2.3"/>
<text stroke="#000" stroke-width="0.5" stroke-linejoin="round" transform="translate(252.07,309.77) rotate(-90) scale(1.03,1.09)" text-anchor="end" font-size="18.8">Wild-type</text>
<line x1="286.01" y1="292.35" x2="286.01" y2="304.15" stroke="#000" stroke-width="2.3"/>
<text stroke="#000" stroke-width="0.5" stroke-linejoin="round" transform="translate(293.27,309.93) rotate(-90) scale(1.03,1.09)" text-anchor="end" font-size="18.8">Knockout</text>
<line x1="327.21" y1="292.35" x2="327.21" y2="304.15" stroke="#000" stroke-width="2.3"/>
<text stroke="#000" stroke-width="0.5" stroke-linejoin="round" transform="translate(334.47,310.09) rotate(-90) scale(1.03,1.09)" text-anchor="end" font-size="18.8">Chimera</text>
<line x1="391.75" y1="28.10" x2="391.75" y2="293.95" stroke="#000" stroke-width="2.3"/>
<line x1="514.60" y1="28.10" x2="514.60" y2="293.95" stroke="#000" stroke-width="2.3"/>
<line x1="380.35" y1="29.25" x2="515.75" y2="29.25" stroke="#000" stroke-width="2.3"/>
<line x1="380.35" y1="292.80" x2="515.75" y2="292.80" stroke="#000" stroke-width="2.3"/>
<text stroke="#000" stroke-width="0.5" stroke-linejoin="round" transform="translate(375.04,299.38) scale(1.05,1.0)" text-anchor="end" font-size="18.8">0</text>
<line x1="380.35" y1="226.91" x2="391.75" y2="226.91" stroke="#000" stroke-width="2.3"/>
<text stroke="#000" stroke-width="0.5" stroke-linejoin="round" transform="translate(375.04,233.49) scale(1.0,1.0)" text-anchor="end" font-size="18.8">20</text>
<line x1="380.35" y1="161.03" x2="391.75" y2="161.03" stroke="#000" stroke-width="2.3"/>
<text stroke="#000" stroke-width="0.5" stroke-linejoin="round" transform="translate(375.04,167.60) scale(1.0,1.0)" text-anchor="end" font-size="18.8">40</text>
<line x1="380.35" y1="95.14" x2="391.75" y2="95.14" stroke="#000" stroke-width="2.3"/>
<text stroke="#000" stroke-width="0.5" stroke-linejoin="round" transform="translate(375.04,101.72) scale(1.0,1.0)" text-anchor="end" font-size="18.8">60</text>
<text stroke="#000" stroke-width="0.5" stroke-linejoin="round" transform="translate(375.04,35.83) scale(1.0,1.0)" text-anchor="end" font-size="18.8">80</text>
<text stroke="#000" stroke-width="0.5" stroke-linejoin="round" transform="translate(454.95,18.95) scale(1.03,1.0)" text-anchor="middle" font-size="20.5" font-weight="bold">CFU-pre-B</text>
<line x1="411.91" y1="292.80" x2="411.91" y2="304.60" stroke="#000" stroke-width="2.3"/>
<text stroke="#000" stroke-width="0.5" stroke-linejoin="round" transform="translate(419.17,310.41) rotate(-90) scale(1.03,1.09)" text-anchor="end" font-size="18.8">Wild-type</text>
<line x1="453.01" y1="292.80" x2="453.01" y2="304.60" stroke="#000" stroke-width="2.3"/>
<text stroke="#000" stroke-width="0.5" stroke-linejoin="round" transform="translate(460.27,310.57) rotate(-90) scale(1.03,1.09)" text-anchor="end" font-size="18.8">Knockout</text>
<line x1="493.71" y1="292.80" x2="493.71" y2="304.60" stroke="#000" stroke-width="2.3"/>
<text stroke="#000" stroke-width="0.5" stroke-linejoin="round" transform="translate(500.97,310.73) rotate(-90) scale(1.03,1.09)" text-anchor="end" font-size="18.8">Chimera</text>
</g>
<text stroke="#000" stroke-width="0.5" stroke-linejoin="round" transform="translate(22.59,249.89) rotate(-90)" text-anchor="start" font-size="19.7"><tspan x="0">Colonies/femur</tspan><tspan x="129.4">(</tspan><tspan x="136.2" dy="0.6" font-family="'Liberation Sans', Arial, sans-serif" font-size="18.8" stroke-width="0.75">x</tspan><tspan x="152.5" dy="-0.6">1</tspan><tspan x="164.6">0</tspan><tspan x="173.4" dy="-8.6" font-size="14.5">3</tspan><tspan x="180.6" dy="8.6">)</tspan></text>
</g>
</svg>
</body>
</html>
